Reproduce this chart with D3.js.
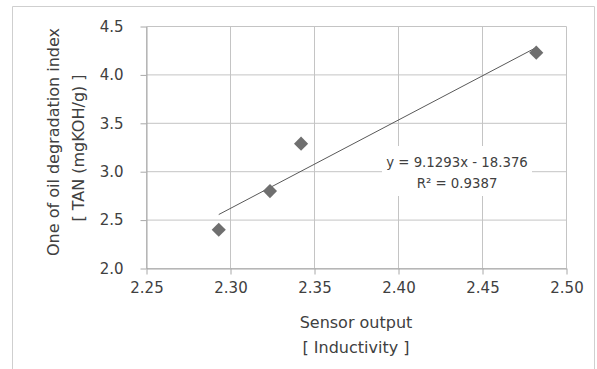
<!DOCTYPE html>
<html>
<head>
<meta charset="utf-8">
<script src="https://cdn.jsdelivr.net/npm/d3@7"></script>
<style>
  body { margin: 0; background: #fff; }
  text { font-family: "DejaVu Sans", Verdana, sans-serif; fill: #404040; }
</style>
</head>
<body>
<div id="container"></div>
<script>
// data
var sensorOutput = [2.293, 2.3235, 2.342, 2.482];
var tanValue = [2.40, 2.80, 3.29, 4.23];
var xTicks = [2.25, 2.30, 2.35, 2.40, 2.45, 2.50];
var yTicks = [2.0, 2.5, 3.0, 3.5, 4.0, 4.5];
var trendSlope = 9.1293, trendIntercept = -18.376, trendR2 = 0.9387;
var xTitle = ['Sensor output', '[ Inductivity ]'];
var yTitle = ['One of oil degradation index', '[ TAN (mgKOH/g) ]'];

(function() {
  var width = 597, height = 369;
  var pLeft = 146.5, pRight = 566.5, pTop = 26.5, pBottom = 268.5;

  var svg = d3.select('#container').append('svg')
    .attr('width', width).attr('height', height);

  // outer chart frame (bottom cut off)
  svg.append('path')
    .attr('d', 'M12.5,' + height + ' V6.5 H594.5 V' + height)
    .attr('fill', 'none').attr('stroke', '#cfcfcf');

  var x = d3.scaleLinear().domain([2.25, 2.50]).range([pLeft, pRight]);
  var y = d3.scaleLinear().domain([2.0, 4.5]).range([pBottom, pTop]);

  // grid
  svg.append('g').selectAll('line').data(yTicks).enter().append('line')
    .attr('x1', pLeft).attr('x2', pRight)
    .attr('y1', function(d) { return y(d); }).attr('y2', function(d) { return y(d); })
    .attr('stroke', '#c4c4c4');
  svg.append('g').selectAll('line').data(xTicks).enter().append('line')
    .attr('y1', pTop).attr('y2', pBottom)
    .attr('x1', function(d) { return x(d); }).attr('x2', function(d) { return x(d); })
    .attr('stroke', '#c4c4c4');

  // axes
  var xAxis = svg.append('g')
    .attr('transform', 'translate(0,' + pBottom + ')')
    .call(d3.axisBottom(x).tickValues(xTicks).tickFormat(d3.format('.2f')).tickSize(6).tickSizeOuter(0).tickPadding(8));
  var yAxis = svg.append('g')
    .attr('transform', 'translate(' + pLeft + ',0)')
    .call(d3.axisLeft(y).tickValues(yTicks).tickFormat(d3.format('.1f')).tickSize(6).tickSizeOuter(0).tickPadding(17));

  [xAxis, yAxis].forEach(function(a) {
    a.selectAll('.domain, line').attr('stroke', '#a8a8a8');
    a.selectAll('text').attr('fill', '#404040').attr('font-size', 15)
      .attr('font-family', '"DejaVu Sans", Verdana, sans-serif');
  });

  // axis titles
  svg.append('g').selectAll('text').data(xTitle).enter().append('text')
    .attr('x', 356).attr('y', function(d, i) { return 328 + i * 25; })
    .attr('text-anchor', 'middle').attr('font-size', 16)
    .text(function(d) { return d; });
  svg.append('g').selectAll('text').data(yTitle).enter().append('text')
    .attr('transform', function(d, i) { return 'translate(' + (59 + i * 25) + ',' + (142 + i * 6) + ') rotate(-90)'; })
    .attr('text-anchor', 'middle').attr('font-size', 16)
    .text(function(d) { return d; });

  // trendline
  var xExt = d3.extent(sensorOutput);
  svg.append('line')
    .attr('x1', x(xExt[0])).attr('y1', y(trendSlope * xExt[0] + trendIntercept))
    .attr('x2', x(xExt[1])).attr('y2', y(trendSlope * xExt[1] + trendIntercept))
    .attr('stroke', '#595959').attr('stroke-width', 1);

  // points
  svg.append('g').selectAll('path').data(sensorOutput).enter().append('path')
    .attr('d', d3.symbol().type(d3.symbolSquare).size(100))
    .attr('transform', function(d, i) { return 'translate(' + x(d) + ',' + y(tanValue[i]) + ') rotate(45)'; })
    .attr('fill', '#6f6f6f');

  // trendline label
  var lbl = svg.append('g').attr('transform', 'translate(457,0)');
  lbl.append('rect').attr('x', -75).attr('y', 146).attr('width', 150).attr('height', 50).attr('fill', '#fff');
  lbl.append('text').attr('y', 167).attr('text-anchor', 'middle').attr('font-size', 13.3)
    .text('y = ' + trendSlope + 'x - ' + (-trendIntercept));
  lbl.append('text').attr('y', 188).attr('text-anchor', 'middle').attr('font-size', 13.3)
    .text('R² = ' + trendR2);
})();
</script>
</body>
</html>
